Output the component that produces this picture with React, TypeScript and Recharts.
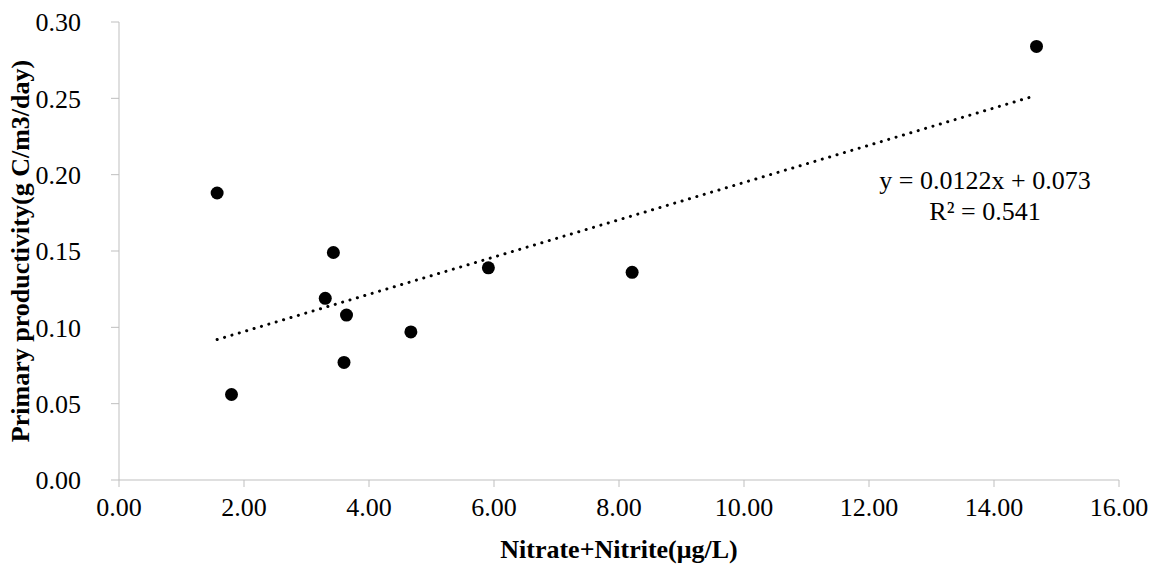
import React from "react";
import {
  ScatterChart,
  Scatter,
  XAxis,
  YAxis,
  ReferenceLine,
  Label,
} from "recharts";

const nitrate = [1.57, 1.8, 3.3, 3.43, 3.6, 3.64, 4.67, 5.91, 8.21, 14.68];
const productivity = [0.188, 0.056, 0.119, 0.149, 0.077, 0.108, 0.097, 0.139, 0.136, 0.284];
const xTicks = [0, 2, 4, 6, 8, 10, 12, 14, 16];
const yTicks = [0, 0.05, 0.1, 0.15, 0.2, 0.25, 0.3];
// trendline ends
const trendEnds = [
  { x: 1.57, y: 0.092 },
  { x: 14.6, y: 0.251 },
];

const points = nitrate.map((x, i) => ({ x, y: productivity[i] }));

const font = "'Liberation Serif', 'Times New Roman', serif";
const axisColor = "#bfbfbf";

const App = () => (
  <div style={{ position: "absolute", left: 0, top: 0, width: 1159, height: 566 }}>
    <ScatterChart
      width={1159}
      height={566}
      margin={{ top: 22, right: 40, bottom: 0, left: 0 }}
    >
      <XAxis
        type="number"
        dataKey="x"
        domain={[0, 16]}
        ticks={xTicks}
        tickFormatter={(v: number) => v.toFixed(2)}
        height={86}
        stroke={axisColor}
        tickSize={7}
        tickMargin={11}
        tick={{ fill: "#000", fontFamily: font, fontSize: 26 }}
        allowDataOverflow
      >
        <Label
          value="Nitrate+Nitrite(μg/L)"
          position="insideBottom"
          offset={8}
          style={{ fill: "#000", fontFamily: font, fontSize: 26, fontWeight: "bold" }}
        />
      </XAxis>
      <YAxis
        type="number"
        dataKey="y"
        domain={[0, 0.3]}
        ticks={yTicks}
        tickFormatter={(v: number) => v.toFixed(2)}
        width={119}
        stroke={axisColor}
        tickSize={8}
        tickMargin={30}
        tick={{ fill: "#000", fontFamily: font, fontSize: 26 }}
        allowDataOverflow
      >
        <Label
          value="Primary productivity(g C/m3/day)"
          angle={-90}
          position="insideLeft"
          offset={20}
          style={{
            textAnchor: "middle",
            fill: "#000",
            fontFamily: font,
            fontSize: 26,
            fontWeight: "bold",
          }}
        />
      </YAxis>
      <ReferenceLine
        segment={trendEnds}
        stroke="#000"
        strokeWidth={3}
        strokeDasharray="0.1 7.6"
        strokeLinecap="round"
      />
      <Scatter data={points} fill="#000" isAnimationActive={false} shape={(p: any) => (
        <circle cx={p.cx} cy={p.cy} r={6.5} fill="#000" />
      )} />
    </ScatterChart>
    <div
      style={{
        position: "absolute",
        left: 835,
        top: 165,
        width: 300,
        textAlign: "center",
        fontFamily: font,
        fontSize: 26,
        lineHeight: "31px",
        color: "#000",
      }}
    >
      y = 0.0122x + 0.073
      <br />
      R² = 0.541
    </div>
  </div>
);

export default App;
